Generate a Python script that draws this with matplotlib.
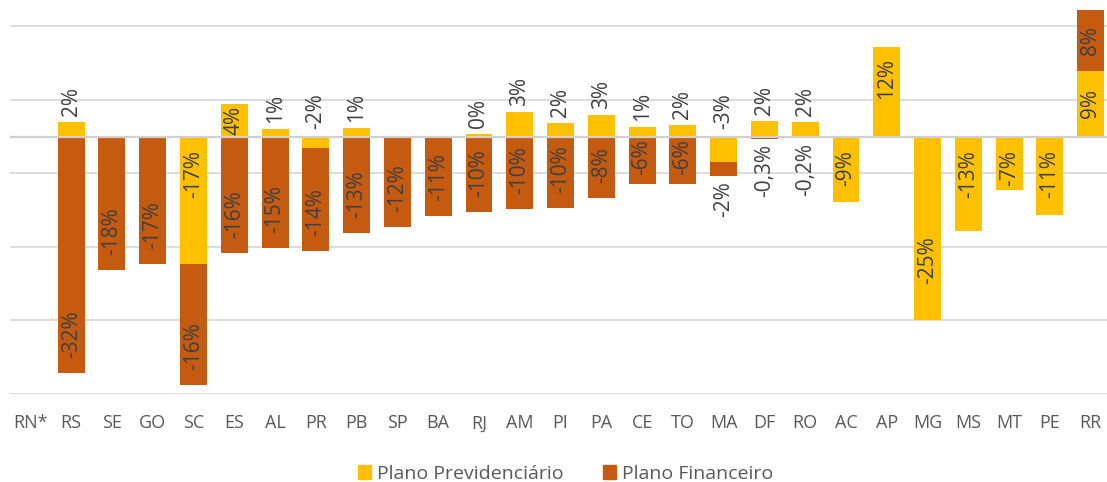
import numpy as np
import matplotlib
matplotlib.use("Agg")
import matplotlib.pyplot as plt
from matplotlib.patches import Patch

# dados (%)
estados = ["RN*", "RS", "SE", "GO", "SC", "ES", "AL", "PR", "PB", "SP", "BA", "RJ", "AM", "PI",
           "PA", "CE", "TO", "MA", "DF", "RO", "AC", "AP", "MG", "MS", "MT", "PE", "RR"]
previdenciario = [np.nan, 2.0, np.nan, np.nan, -17.4, 4.4, 1.0, -1.6, 1.1, np.nan, np.nan, 0.4, 3.4, 1.8,
                  3.0, 1.25, 1.6, -3.4, 2.1, 2.0, -8.9, 12.2, -25.0, -12.9, -7.3, -10.7, 8.9]
financeiro = [np.nan, -32.2, -18.2, -17.4, -16.4, -15.8, -15.2, -14.0, -13.1, -12.3, -10.8, -10.3, -9.9, -9.8,
              -8.4, -6.4, -6.4, -2.0, -0.3, -0.2, np.nan, np.nan, np.nan, np.nan, np.nan, np.nan, 8.4]
series_nomes = ["Plano Previdenciário", "Plano Financeiro"]

AMARELO = "#FFC000"
LARANJA = "#C55A11"
TXT = "#404040"
FONTE = ["Open Sans", "DejaVu Sans"]

plt.rcParams["font.family"] = FONTE

fig = plt.figure(figsize=(11.07, 4.82), dpi=100)
ax = fig.add_axes([10 / 1107, (482 - 393.5) / 482, 1097 / 1107, 393.5 / 482])
ax.set_xlim(-0.5, 26.4)
ax.set_ylim(-35, 18.6)

x = np.arange(len(estados))
prev = np.array(previdenciario, dtype=float)
fin = np.array(financeiro, dtype=float)

# empilhamento: positivos e negativos separados
prev0 = np.nan_to_num(prev)
base_fin = np.where(np.sign(prev0) == np.sign(np.nan_to_num(fin)), prev0, 0.0)

w = 0.66
ax.bar(x, prev, w, color=AMARELO, zorder=3)
ax.bar(x, fin, w, bottom=base_fin, color=LARANJA, zorder=3)

# grade
for g in [-35, -25, -15, -5, 5, 15]:
    ax.axhline(g, color="#d9d9d9", lw=1.3, zorder=1)
ax.axhline(0, color="#d0d0d0", lw=1.6, zorder=4)

for s in ax.spines.values():
    s.set_visible(False)
ax.set_yticks([])
ax.set_xticks(x)
ax.set_xticklabels(estados, fontsize=13, color="#595959")
ax.tick_params(axis="x", length=0, pad=15)

# pixels por unidade
ppu = ax.transData.transform((0, 1))[1] - ax.transData.transform((0, 0))[1]


def rotulo(v, serie):
    if serie == 1 and abs(v) < 1:
        return f"{v:.1f}%".replace(".", ",")
    return f"{round(v):.0f}%"


def escreve(xi, y, txt, va, dy):
    ax.annotate(txt, (xi, y), xytext=(0, dy), textcoords="offset pixels",
                rotation=90, ha="center", va=va, fontsize=15, color=TXT, zorder=5)


ajuste = {"MG": -86}  # rótulo arrastado manualmente

for i in range(len(estados)):
    v = prev[i]
    if not np.isnan(v):
        t = rotulo(v, 0)
        if v >= 10:
            escreve(i, v, t, "top", -11)
        elif v >= 4:
            escreve(i, v / 2, t, "center", 0)
        elif v >= 0:
            escreve(i, v, t, "bottom", 6)
        elif v > -4:
            escreve(i, 0, t, "bottom", 8)
        else:
            escreve(i, 0, t, "top", -14 + ajuste.get(estados[i], 0))
    v = fin[i]
    if not np.isnan(v):
        t = rotulo(v, 1)
        b = base_fin[i]
        fim = b + v
        if v > 0:
            escreve(i, b + v / 2, t, "center", 0)
        elif v > -3:
            escreve(i, fim, t, "top", -5)
        else:
            comp = len(t) * 12.5
            if abs(v) * ppu < comp + 19:
                escreve(i, b, t, "top", -3)
            else:
                escreve(i, fim, t, "bottom", 15)

handles = [Patch(color=AMARELO), Patch(color=LARANJA)]
fig.legend(handles, series_nomes, loc="center", bbox_to_anchor=(0.511, 1 - 474 / 482), ncol=2,
           frameon=False, fontsize=14, labelcolor="#595959", handlelength=0.7, handleheight=0.7,
           handletextpad=0.3, columnspacing=2.0)

fig.savefig("out.png", dpi=100)
